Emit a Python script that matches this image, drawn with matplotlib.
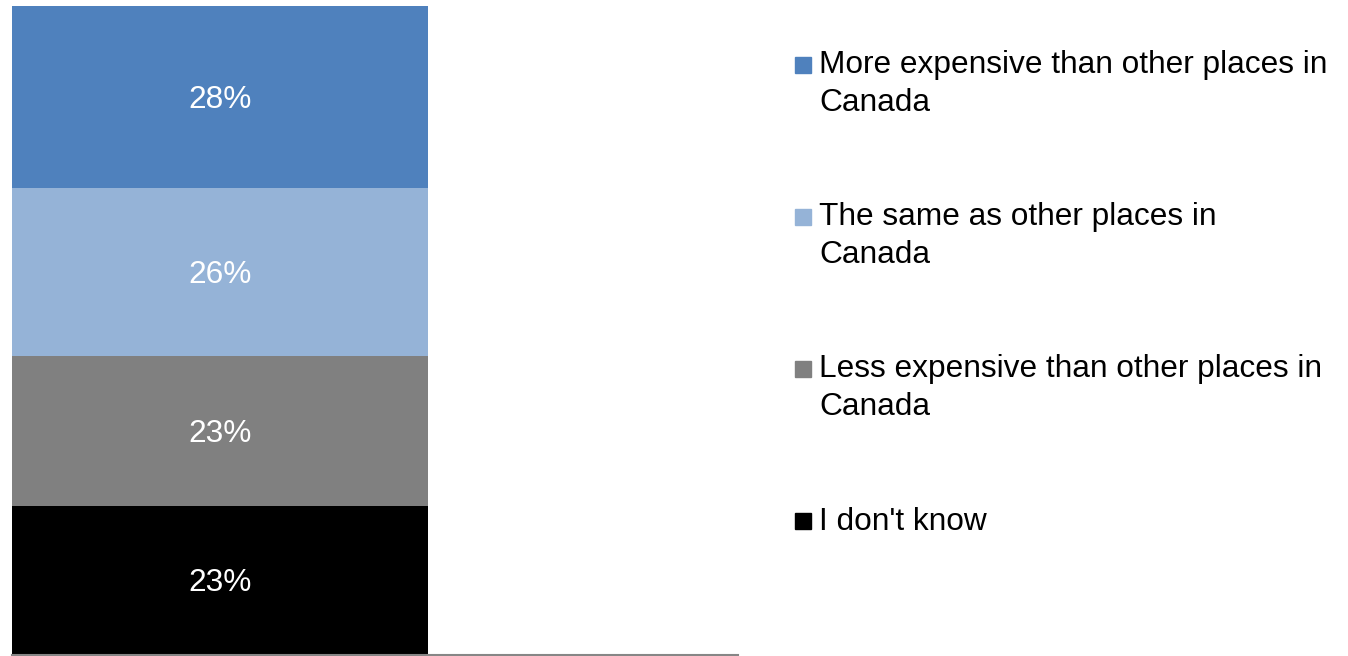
import matplotlib
matplotlib.use("Agg")
import matplotlib.pyplot as plt
from matplotlib.patches import Rectangle

plt.rcParams['font.family'] = ['Liberation Sans', 'DejaVu Sans']

# données (de bas en haut)
categories = ["I don't know",
              "Less expensive than other places in\nCanada",
              "The same as other places in\nCanada",
              "More expensive than other places in\nCanada"]
valeurs = [23, 23, 26, 28]
couleurs = ['#000000', '#808080', '#95B3D7', '#4F81BD']
etiquettes = ["23%", "23%", "26%", "28%"]

W, H = 1348, 656
fig = plt.figure(figsize=(W / 100, H / 100), dpi=100)
ax = fig.add_axes([12 / W, 1 / H, (738 - 12) / W, (655 - 6) / H])

bas = 0
for v, c, lab in zip(valeurs, couleurs, etiquettes):
    ax.bar(0, v, width=1, bottom=bas, color=c, align='edge', linewidth=0)
    # ligne de base décalée pour centrer les chiffres
    ax.annotate(lab, (0.5, bas + v / 2), xytext=(0, -8),
                textcoords='offset points', ha='center', va='baseline',
                color='white', fontsize=22.8)
    bas += v

ax.set_xlim(0, 726 / 416)
ax.set_ylim(0, sum(valeurs))
for s in ['top', 'right', 'left']:
    ax.spines[s].set_visible(False)
ax.spines['bottom'].set_color('#868686')
ax.spines['bottom'].set_linewidth(1.5)
ax.set_xticks([])
ax.set_yticks([])

# légende faite à la main (carré aligné sur la première ligne)
base_y = 73.5
pas = 152
interligne = 37.5
for i, (lab, c) in enumerate(zip(categories[::-1], couleurs[::-1])):
    y = base_y + i * pas
    fig.patches.append(Rectangle((795 / W, 1 - (y - 0.5) / H), 16 / W, 16 / H,
                                 transform=fig.transFigure, color=c))
    for k, ligne in enumerate(lab.split('\n')):
        fig.text(819 / W, 1 - (y + k * interligne) / H, ligne, ha='left',
                 va='baseline', fontsize=22.8, color='black')

fig.savefig('out.png', dpi=100)
